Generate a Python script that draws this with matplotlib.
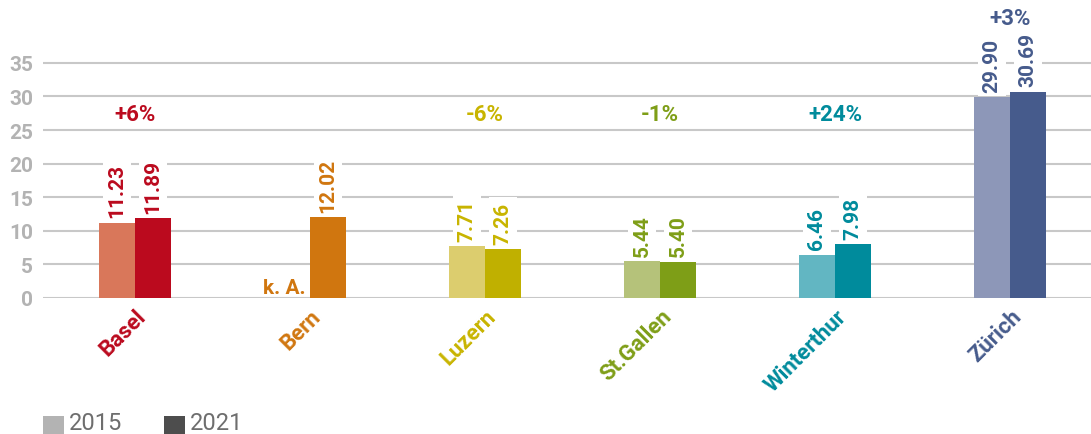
import numpy as np
import matplotlib
matplotlib.use("Agg")
import matplotlib.pyplot as plt
from matplotlib.patches import Rectangle

plt.rcParams['font.family'] = ['Roboto', 'DejaVu Sans']

cities = ['Basel', 'Bern', 'Luzern', 'St.Gallen', 'Winterthur', 'Zürich']
values_2015 = [11.23, np.nan, 7.71, 5.44, 6.46, 29.90]
values_2021 = [11.89, 12.02, 7.26, 5.40, 7.98, 30.69]
changes = ['+6%', None, '-6%', '-1%', '+24%', '+3%']
years = ['2015', '2021']
missing_label = 'k. A.'

colors_2015 = ['#d9775a', '#e09a50', '#dccd6e', '#b5c27a', '#62b6c2', '#8d97b8']
colors_2021 = ['#bb0a1e', '#d0760f', '#c0b000', '#7e9e17', '#008b9c', '#465b8c']
text_colors = ['#bb0a1e', '#d0760f', '#c8b400', '#7e9e17', '#008b9c', '#465b8c']

grid_color = '#c8c8c8'
fig = plt.figure(figsize=(10.91, 4.35), dpi=100)
ax = fig.add_axes([43 / 1091, 136 / 435, 1 - 43 / 1091, 299 / 435])

x = np.arange(len(cities))
w = 0.206

for i in range(len(cities)):
    if not np.isnan(values_2015[i]):
        ax.bar(x[i] - w / 2, values_2015[i], w, color=colors_2015[i], zorder=3)
    ax.bar(x[i] + w / 2, values_2021[i], w, color=colors_2021[i], zorder=3)

label_kw = dict(rotation=90, ha='center', va='bottom', fontsize=15, fontweight='bold',
                textcoords='offset points', zorder=4,
                bbox=dict(boxstyle='square,pad=0.2', fc='white', ec='none'))
for i in range(len(cities)):
    if not np.isnan(values_2015[i]):
        ax.annotate(f'{values_2015[i]:.2f}', (x[i] - w / 2, values_2015[i]), xytext=(0, 4),
                    color=text_colors[i], **label_kw)
    else:
        ax.annotate(missing_label, (x[i], 0), xytext=(-3, 1), textcoords='offset points',
                    ha='right', va='bottom', fontsize=15, fontweight='bold',
                    color=text_colors[i], zorder=4)
    ax.annotate(f'{values_2021[i]:.2f}', (x[i] + w / 2, values_2021[i]), xytext=(0, 4),
                color=text_colors[i], **label_kw)

# change labels above each city group
for i, c in enumerate(changes):
    if c is None:
        continue
    y = 41.6 if i == len(cities) - 1 else 27.4
    ax.text(x[i], y, c, ha='center', va='center', fontsize=16, fontweight='bold',
            color=text_colors[i], zorder=4)

ax.set_xlim(-0.526, 5.463)
ax.set_ylim(0, 44.5)
ax.set_yticks(np.arange(0, 36, 5))
ax.yaxis.grid(True, color=grid_color, linewidth=1.5, zorder=0)
ax.tick_params(axis='y', length=0, pad=7, labelsize=15, labelcolor='#b3b3b3')
for t in ax.get_yticklabels():
    t.set_fontweight('bold')

ax.set_xticks(x)
ax.set_xticklabels(cities, rotation=45, ha='right', rotation_mode='anchor',
                   fontsize=16, fontweight='bold')
for t, c in zip(ax.get_xticklabels(), text_colors):
    t.set_color(c)
ax.tick_params(axis='x', length=0, pad=5)

for s in ax.spines.values():
    s.set_visible(False)

# legend drawn at the bottom-left of the figure
legend_colors = ['#b3b3b3', '#4d4d4d']
for k, (yr, col) in enumerate(zip(years, legend_colors)):
    x0 = (43 + k * 121) / 1091
    fig.add_artist(Rectangle((x0, -0.01), 21 / 1091, 22 / 435, transform=fig.transFigure,
                             facecolor=col, edgecolor='none'))
    fig.text(x0 + 26 / 1091, 0.0, yr, fontsize=17, color='#6e6e6e', ha='left', va='bottom')

fig.savefig('out.png', dpi=100)
